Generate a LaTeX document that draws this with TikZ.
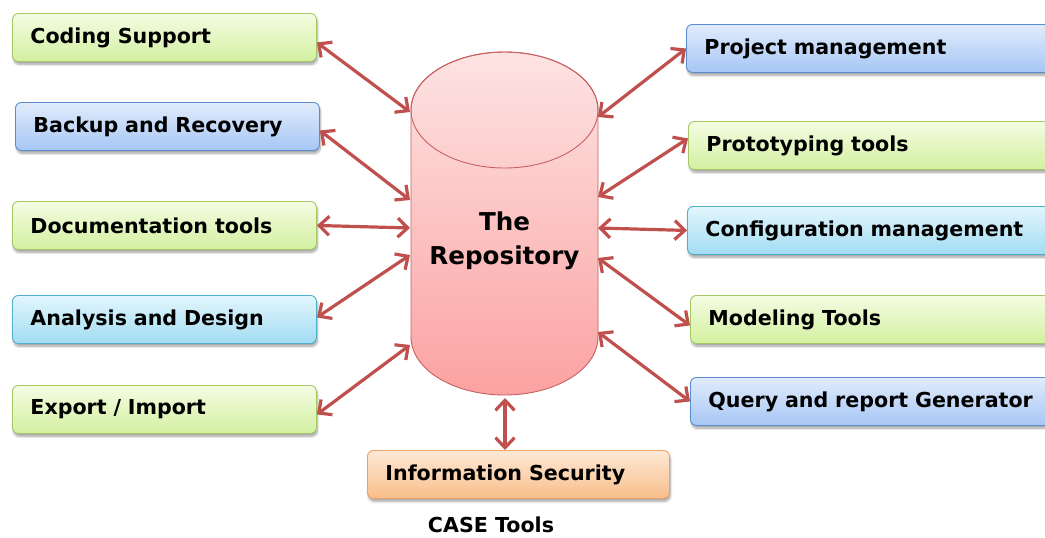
\documentclass[tikz,border=0pt]{standalone}
\usepackage{fontspec}
\setmainfont{DejaVu Sans}
\usetikzlibrary{arrows.meta,shadows.blur}
\definecolor{gtop}{HTML}{F4FCE3}\definecolor{gbot}{HTML}{D3F0A0}\definecolor{gbrd}{HTML}{A5C766}
\definecolor{btop}{HTML}{E1ECFC}\definecolor{bbot}{HTML}{A6C6F4}\definecolor{bbrd}{HTML}{5A8DCF}
\definecolor{ctop}{HTML}{E2F6FD}\definecolor{cbot}{HTML}{A2DCF2}\definecolor{cbrd}{HTML}{4FAFCB}
\definecolor{otop}{HTML}{FEE9D6}\definecolor{obot}{HTML}{F9BE8A}\definecolor{obrd}{HTML}{F0A060}
\definecolor{rtop}{HTML}{FDE3E3}\definecolor{rbot}{HTML}{FCA2A2}\definecolor{rbrd}{HTML}{C86060}
\definecolor{arr}{HTML}{C0504D}
\tikzset{
  box/.style={rounded corners=6pt, line width=0.9pt, inner xsep=18pt, inner ysep=0pt,
    minimum height=48pt, align=left, anchor=north west,
    font=\fontsize{20.6}{23}\selectfont\bfseries,
    blur shadow={shadow xshift=1pt, shadow yshift=-3pt, shadow blur steps=6, shadow opacity=35}},
  gbox/.style={box, draw=gbrd, top color=gtop, bottom color=gbot},
  bbox/.style={box, draw=bbrd, top color=btop, bottom color=bbot},
  cbox/.style={box, draw=cbrd, top color=ctop, bottom color=cbot},
  obox/.style={box, draw=obrd, top color=otop, bottom color=obot},
  lw/.style={text width=268pt},
  rw/.style={text width=336pt},
  link/.style={draw=arr, line width=3.2pt, {Straight Barb[length=10pt,width=19pt]}-{Straight Barb[length=10pt,width=19pt]}}
}
\begin{document}
\begin{tikzpicture}[x=1pt,y=-1pt]
\useasboundingbox (0,0) rectangle (1045,538);
\clip (0,0) rectangle (1045,538);
% cylinder
\path[top color=rtop, bottom color=rbot, draw=rbrd, line width=0.9pt]
  (411,110) -- (411,337) arc[start angle=180, end angle=360, x radius=93.5pt, y radius=58pt]
  -- (598,110) arc[start angle=0, end angle=180, x radius=93.5pt, y radius=58pt] -- cycle;
\draw[rbrd, line width=0.9pt] (504.5,110) ellipse[x radius=93.5pt, y radius=58pt];
\node[font=\fontsize{24.6}{34}\selectfont\bfseries, align=center] (repo) at (504.5,241) {The\\Repository};
% cylinder attachment points
\coordinate (l1) at (410,112);
\coordinate (l2) at (410,200);
\coordinate (l3) at (410,228);
\coordinate (l4) at (410,255);
\coordinate (l5) at (410,345);
\coordinate (r1) at (598,117);
\coordinate (r2) at (598,197);
\coordinate (r3) at (598,228);
\coordinate (r4) at (598,258);
\coordinate (r5) at (598,332);
\coordinate (bt) at (505,398);
% left boxes
\node[gbox, lw] (cs) at (12,13) {Coding Support};
\node[bbox, lw] (br) at (15,102) {Backup and Recovery};
\node[gbox, lw] (dt) at (12,201) {Documentation tools};
\node[cbox, lw] (ad) at (12,295) {Analysis and Design};
\node[gbox, lw] (ei) at (12,385) {Export / Import};
% right boxes
\node[bbox, rw] (pm) at (686,24) {Project management};
\node[gbox, rw] (pt) at (688,121) {Prototyping tools};
\node[cbox, rw] (cm) at (687,206) {Configuration management};
\node[gbox, rw] (mt) at (690,295) {Modeling Tools};
\node[bbox, rw] (qr) at (690,377) {Query and report Generator};
% bottom
\node[obox, text width=266pt] (is) at (367,450) {Information Security};
\node[font=\fontsize{20.6}{23}\selectfont\bfseries] (ct) at (491,525) {CASE Tools};
% links
\draw[link] ([yshift=-5pt]cs.east) -- (l1);
\draw[link] ([yshift=-4pt]br.east) -- (l2);
\draw[link] (dt.east) -- (l3);
\draw[link] ([yshift=2pt]ad.east) -- (l4);
\draw[link] ([yshift=-5pt]ei.east) -- (l5);
\draw[link] (r1) -- (pm.west);
\draw[link] (r2) -- ([yshift=7pt]pt.west);
\draw[link] (r3) -- (cm.west);
\draw[link] (r4) -- ([yshift=-6pt]mt.west);
\draw[link] (r5) -- (qr.west);
\draw[link] (bt) -- (is.north -| bt);
\end{tikzpicture}
\end{document}
